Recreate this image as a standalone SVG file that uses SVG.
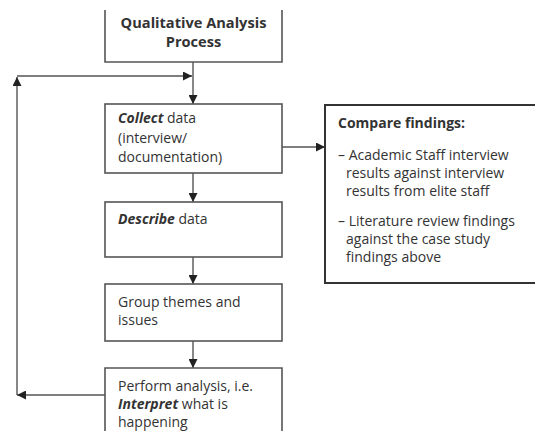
<svg xmlns="http://www.w3.org/2000/svg" width="535" height="431" viewBox="0 0 535 431">
<style>
.box{fill:#fff;stroke:#555;stroke-width:1.6}
.cbox{fill:#fff;stroke:#333;stroke-width:2}
.ln{fill:none;stroke:#555;stroke-width:1.4}
text{font-family:"Open Sans","Noto Sans",sans-serif;font-size:14px;fill:#333}
.b{font-weight:bold}
.t{font-size:14.6px}
.bi{font-weight:bold;font-style:italic}
</style>
<defs>
<marker id="ah" viewBox="0 0 10 10" refX="10" refY="5" markerWidth="9" markerHeight="9" markerUnits="userSpaceOnUse" orient="auto">
<path d="M0,0 L10,5 L0,10 z" fill="#222"/>
</marker>
</defs>
<rect width="535" height="431" fill="#fff"/>
<g id="connectors">
<line class="ln" x1="193" y1="62" x2="193" y2="104" marker-end="url(#ah)"/>
<line class="ln" x1="17" y1="76" x2="192" y2="76" marker-end="url(#ah)"/>
<line class="ln" x1="17" y1="395" x2="17" y2="77" marker-end="url(#ah)"/>
<line class="ln" x1="105" y1="395" x2="17" y2="395" marker-end="url(#ah)"/>
<line class="ln" x1="193" y1="173" x2="193" y2="202" marker-end="url(#ah)"/>
<line class="ln" x1="193" y1="257" x2="193" y2="284" marker-end="url(#ah)"/>
<line class="ln" x1="193" y1="341" x2="193" y2="368" marker-end="url(#ah)"/>
<line class="ln" x1="282" y1="147" x2="325" y2="147" marker-end="url(#ah)"/>
</g>
<g id="start">
<path class="box" d="M105,10 V62 H282 V10"/>
<text class="b t" x="193.5" y="28" text-anchor="middle">Qualitative Analysis</text>
<text class="b t" x="193.5" y="47" text-anchor="middle">Process</text>
</g>
<g id="collect">
<rect class="box" x="105" y="104" width="177" height="69"/>
<text x="118" y="123"><tspan class="bi">Collect</tspan> data</text>
<text x="118" y="143">(interview/</text>
<text x="118" y="162">documentation)</text>
</g>
<g id="describe">
<rect class="box" x="105" y="202" width="177" height="55"/>
<text x="118" y="224"><tspan class="bi">Describe</tspan> data</text>
</g>
<g id="group">
<rect class="box" x="105" y="284" width="177" height="57"/>
<text x="118" y="307">Group themes and</text>
<text x="118" y="325">issues</text>
</g>
<g id="perform">
<path class="box" d="M105,440 V368 H282 V440"/>
<text x="118" y="391">Perform analysis, i.e.</text>
<text x="118" y="409"><tspan class="bi">Interpret</tspan> what is</text>
<text x="118" y="427">happening</text>
</g>
<g id="compare">
<path class="cbox" d="M545,105 H325 V283 H545"/>
<text class="b" x="338" y="128">Compare findings:</text>
<text x="338" y="160">– Academic Staff interview</text>
<text x="346" y="178">results against interview</text>
<text x="346" y="196">results from elite staff</text>
<text x="338" y="226">– Literature review findings</text>
<text x="346" y="244">against the case study</text>
<text x="346" y="262">findings above</text>
</g>
</svg>
